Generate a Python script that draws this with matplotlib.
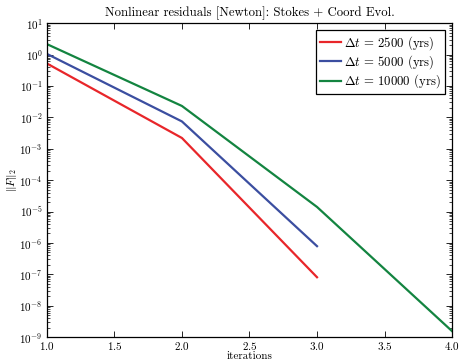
import matplotlib
matplotlib.use("Agg")
import matplotlib.pyplot as plt
from matplotlib.ticker import LogLocator, MultipleLocator, NullFormatter

plt.rcParams["font.family"] = "serif"
plt.rcParams["font.serif"] = ["cmr10"]
plt.rcParams["mathtext.fontset"] = "cm"
plt.rcParams["axes.formatter.use_mathtext"] = True

# residual norms per Newton iteration
iters_short = [1, 2, 3]
iters_long = [1, 2, 3, 4]
res_2500 = [0.52, 2.2e-3, 8.1e-8]
res_5000 = [1.05, 7.4e-3, 7.9e-7]
res_10000 = [2.15, 0.023, 1.4e-5, 1.55e-9]

labels = [r"$\Delta t\, =\, 2500$ (yrs)",
          r"$\Delta t\, =\, 5000$ (yrs)",
          r"$\Delta t\, =\, 10000$ (yrs)"]

fig = plt.figure(figsize=(4.59, 3.61), dpi=100)
ax = fig.add_axes([0.102, 0.066, 0.883, 0.870])

ax.semilogy(iters_short, res_2500, color="#e8262a", lw=1.6, label=labels[0])
ax.semilogy(iters_short, res_5000, color="#3b4ea0", lw=1.6, label=labels[1])
ax.semilogy(iters_long, res_10000, color="#138440", lw=1.6, label=labels[2])

ax.set_xlim(1.0, 4.0)
ax.set_ylim(1e-9, 1e1)
ax.xaxis.set_major_locator(MultipleLocator(0.5))
ax.xaxis.set_minor_locator(MultipleLocator(0.5))
ax.yaxis.set_major_locator(LogLocator(base=10, numticks=20))
ax.yaxis.set_minor_locator(LogLocator(base=10, subs=range(2, 10), numticks=20))
ax.yaxis.set_minor_formatter(NullFormatter())

ax.tick_params(which="both", direction="in", top=True, right=True, labelsize=8)
ax.tick_params(which="major", length=4, width=0.6)
ax.tick_params(which="minor", length=2, width=0.5)
ax.tick_params(axis="x", pad=2)
ax.tick_params(axis="y", pad=3)
for s in ax.spines.values():
    s.set_linewidth(0.9)

ax.set_title("Nonlinear residuals [Newton]: Stokes + Coord Evol.", fontsize=9.2, pad=5)
ax.set_xlabel("iterations", fontsize=8, labelpad=0)
ax.set_ylabel(r"$\|F\|_2$", fontsize=8, labelpad=0)

leg = ax.legend(loc="upper right", fontsize=9.2, fancybox=False, framealpha=1,
                edgecolor="black", handlelength=1.6, handletextpad=0.3,
                labelspacing=0.12, borderpad=0.3, borderaxespad=0.55)
leg.get_frame().set_linewidth(0.9)

fig.savefig("out.png", dpi=100)
